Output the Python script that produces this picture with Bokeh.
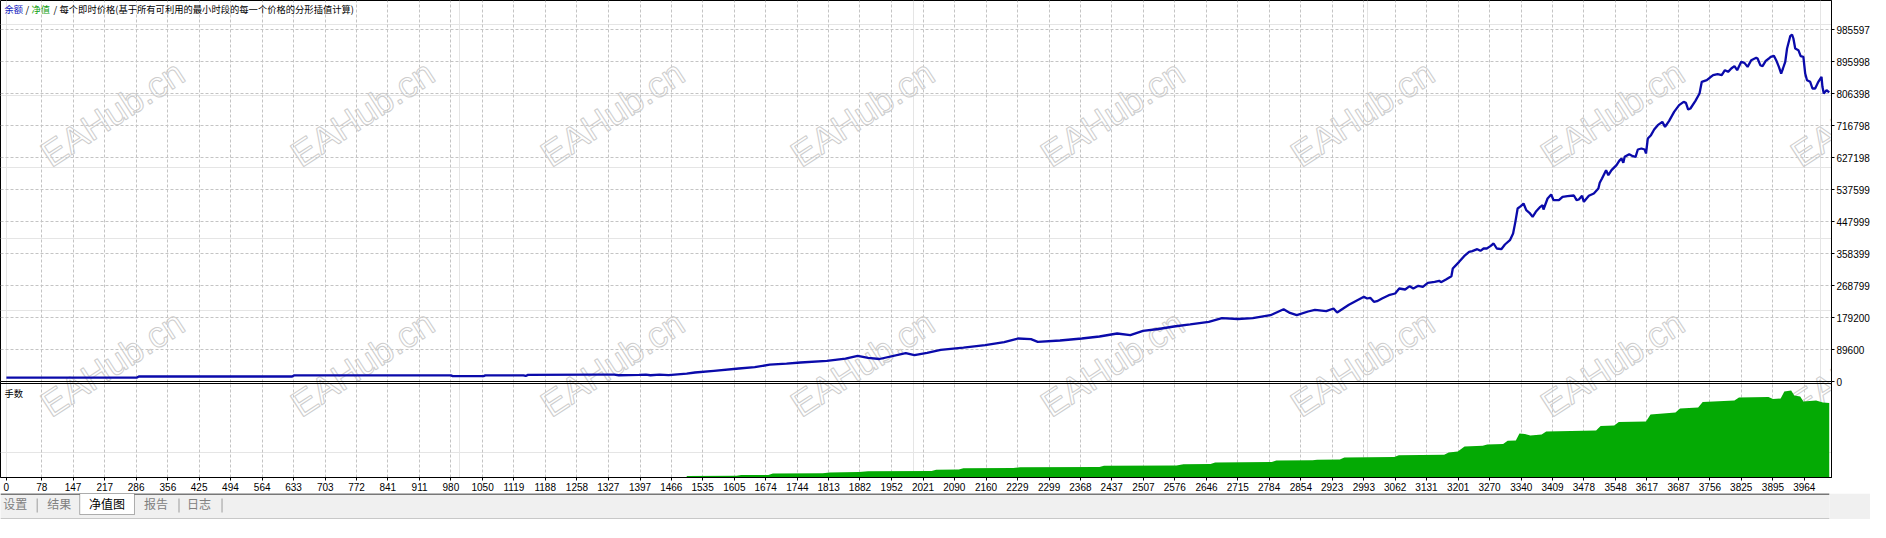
from bokeh.plotting import figure
from bokeh.layouts import column
from bokeh.models import FixedTicker, Grid, Label, Span, Range1d, LinearAxis, BoxAnnotation
from bokeh.core.properties import value
from bokeh.embed import file_html
from bokeh.resources import INLINE

# ---------------- data ----------------
bar_index = [0, 288, 292, 630, 634, 980, 984, 1052, 1056, 1140, 1145, 1150, 1300, 1340, 1350,
             1395, 1410, 1420, 1440, 1460, 1480, 1500, 1518, 1560, 1615, 1650, 1683, 1720, 1751,
             1809, 1850, 1877, 1900, 1925, 1983, 2002, 2030, 2060, 2110, 2158, 2200, 2230, 2259,
             2274, 2323, 2371, 2410, 2449, 2478, 2506, 2540, 2574, 2610, 2651, 2680, 2715, 2748,
             2787, 2816, 2830, 2845, 2870, 2885, 2910, 2926, 2934, 2960,
             2993, 3000, 3007, 3015, 3022, 3033, 3048, 3062, 3071, 3084, 3094, 3102, 3113, 3123,
             3134, 3149, 3159, 3163, 3174, 3186, 3189, 3203, 3214, 3225, 3232, 3243, 3250, 3257,
             3264, 3272, 3279, 3286, 3296, 3304, 3315, 3322, 3327, 3332, 3339, 3345, 3351, 3358,
             3365, 3372, 3382, 3387, 3389, 3398, 3406, 3411, 3423, 3431, 3442, 3456, 3462, 3467,
             3474, 3478, 3489, 3500, 3510,
             3513, 3518, 3527, 3532, 3539, 3550, 3556, 3561, 3565, 3568, 3578, 3586, 3592, 3597,
             3605, 3612, 3615, 3619, 3626, 3633, 3641, 3651, 3657, 3666, 3677, 3688, 3698, 3703,
             3708, 3713, 3724, 3733, 3738, 3749, 3756, 3763, 3773, 3782, 3789, 3796, 3803, 3810,
             3816, 3825, 3832, 3839, 3847, 3858, 3861, 3867, 3872, 3879, 3886, 3890, 3897, 3902,
             3908, 3913, 3917, 3922, 3926, 3933, 3937, 3940, 3944, 3951, 3956, 3962, 3966, 3970,
             3977, 3982, 3988, 3995, 4002, 4004, 4007, 4013, 4019]
balance = [11000, 11000, 14000, 14000, 17000, 17000, 15000, 15000, 17000, 17000, 15500, 18500,
           19000, 19000, 17500, 18500, 19500, 17500, 19500, 18000, 20000, 22000, 25200, 30000,
           36400, 40000, 47000, 50000, 53200, 57900, 64000, 72000, 66000, 63000, 79300, 74000,
           80000, 88600, 95000, 101700, 110000, 120400, 118500, 111100, 114800, 120400, 126000,
           134400, 130000, 141900, 147000, 154000, 160000, 167100, 177200, 175000, 177200, 185600,
           202400, 192000, 185600, 196000, 200700, 197000, 204400, 193200, 215000,
           237100, 232400, 234300, 223100, 225000, 232400, 241700, 246400, 260400, 257600, 266900,
           260400, 267900, 265000, 276300, 279100, 282000, 278200, 285600, 294900, 316400, 335000,
           350900, 363000, 364900, 370500, 365900, 372400, 372400, 379000, 386400, 372400, 370500,
           383600, 395700, 414300, 447000, 484400, 490900, 498400, 479700, 472300, 461100, 475100,
           489100, 493700, 481600, 512400, 523600, 507700, 507700, 517000, 518900, 520800, 507700,
           509600, 519900, 503100, 519900, 526400, 540400,
           556300, 568400, 591700, 577600, 591700, 605700, 617900, 624400, 612300, 629100, 636500,
           631000, 629100, 649600, 652400, 649600, 638400, 680400, 689700, 705600, 717700, 727000,
           713000, 729800, 755000, 773700, 783000, 780200, 761500, 764400, 785800, 806400, 839100,
           843700, 851100, 857700, 860500, 857700, 871700, 867000, 876400, 882900, 871700, 895000,
           892100, 881000, 899700, 906300, 904400, 885700, 882900, 897800, 904400, 909000, 911900,
           899700, 881000, 862300, 876400, 895000, 932400, 966900, 971600, 960400, 932400, 927700,
           910900, 909000, 862300, 843700, 839100, 820400, 820400, 839100, 853100, 825100, 806400,
           815800, 809300]

lots_index = [1500, 1610, 1620, 1680, 1690, 1800, 1815, 1880, 1900, 2040, 2050, 2100, 2110, 2220,
              2235, 2410, 2420, 2580, 2595, 2655, 2665, 2790, 2800, 2880, 2890, 2940, 2950, 3060,
              3070, 3170, 3180, 3200, 3215, 3255, 3265, 3300, 3310, 3328, 3336, 3348, 3360, 3385,
              3395, 3505, 3515, 3545, 3555, 3615, 3625, 3680, 3690, 3730, 3740, 3810, 3820, 3885,
              3895, 3912, 3920, 3935, 3942, 3955, 3962, 3990, 4005, 4019]
lots = [0.15, 0.17, 0.25, 0.25, 0.40, 0.42, 0.50, 0.55, 0.63, 0.65, 0.78, 0.80, 0.92, 0.95, 1.02,
        1.05, 1.17, 1.20, 1.33, 1.36, 1.50, 1.55, 1.70, 1.72, 1.78, 1.80, 2.00, 2.05, 2.23, 2.27,
        2.50, 2.60, 3.10, 3.17, 3.30, 3.35, 3.67, 3.70, 4.40, 4.35, 4.20, 4.30, 4.60, 4.70, 5.15,
        5.20, 5.55, 5.60, 6.30, 6.50, 6.90, 7.00, 7.55, 7.70, 8.00, 8.05, 7.85, 7.90, 8.60, 8.70,
        8.20, 8.10, 7.60, 7.70, 7.50, 7.45]

x_tick_labels = ["0", "78", "147", "217", "286", "356", "425", "494", "564", "633", "703", "772",
                 "841", "911", "980", "1050", "1119", "1188", "1258", "1327", "1397", "1466", "1535",
                 "1605", "1674", "1744", "1813", "1882", "1952", "2021", "2090", "2160", "2229",
                 "2299", "2368", "2437", "2507", "2576", "2646", "2715", "2784", "2854", "2923",
                 "2993", "3062", "3131", "3201", "3270", "3340", "3409", "3478", "3548", "3617",
                 "3687", "3756", "3825", "3895", "3964"]
y_tick_labels = ["0", "89600", "179200", "268799", "358399", "447999", "537599", "627198",
                 "716798", "806398", "895998", "985597"]

title_parts = ["余额", "/", "净值", "/", "每个即时价格(基于所有可利用的最小时段的每一个价格的分形插值计算)"]
title_colors = ["#1020C0", "#000000", "#10A010", "#000000", "#000000"]
lots_title = "手数"
tab_names = ["设置", "结果", "净值图", "报告", "日志"]
watermark = "EAHub.cn"

# ---------------- layout constants ----------------
PAGE = 8
FRAME_W = 1831
FRAME_TOP, ZERO_Y, FRAME_BOT = 8, 389, 485   # page pixels
VAL_PER_PX = 2800.0
LOT_PER_PX = 0.1
X0, X1 = -13.0, 4024.0
SCALE = FRAME_W / (X1 - X0)

def nx(px):
    return X0 + (px - PAGE) / SCALE

def vy(py):
    return (ZERO_Y - py) * VAL_PER_PX

x_ticks = [float(s) for s in x_tick_labels]
y_ticks = [float(s) for s in y_tick_labels]

GRID_COLOR = "#c4c4c4"
FONT = "Liberation Sans"
CJK = "Noto Sans CJK SC"

p = figure(frame_width=FRAME_W, frame_height=FRAME_BOT - FRAME_TOP,
           x_range=Range1d(X0, X1),
           y_range=Range1d(vy(FRAME_BOT), vy(FRAME_TOP)),
           x_axis_location=None, y_axis_location=None,
           output_backend="svg", toolbar_location=None,
           min_border_left=0, min_border_right=0, min_border_top=0, min_border_bottom=0)
p.extra_y_ranges = {"lots": Range1d(0, (FRAME_BOT - FRAME_TOP) * LOT_PER_PX)}
p.background_fill_color = "white"
p.border_fill_color = "white"
p.outline_line_color = "black"
p.outline_line_width = 1

# right value axis
yax = LinearAxis(ticker=FixedTicker(ticks=y_ticks))
yax.major_label_overrides = {t: s for t, s in zip(y_ticks, y_tick_labels)}
yax.axis_line_color = "black"
yax.major_tick_line_color = "black"
yax.major_tick_out = 3
yax.major_tick_in = 0
yax.minor_tick_out = 0
yax.minor_tick_in = 0
yax.major_label_standoff = 2
yax.major_label_text_font = FONT
yax.major_label_text_font_size = "10px"
yax.major_label_text_color = "black"
p.add_layout(yax, "right")

# bottom bar-number axis
xax = LinearAxis(ticker=FixedTicker(ticks=x_ticks))
xax.major_label_overrides = {t: s for t, s in zip(x_ticks, x_tick_labels)}
xax.axis_line_color = "black"
xax.major_tick_line_color = "black"
xax.major_tick_out = 3
xax.major_tick_in = 0
xax.minor_tick_out = 0
xax.minor_tick_in = 0
xax.major_label_standoff = 2
xax.major_label_text_font = FONT
xax.major_label_text_font_size = "10px"
xax.major_label_text_color = "black"
xax.major_label_text_align = "right"
p.add_layout(xax, "below")

# grids
p.add_layout(Grid(dimension=0, ticker=FixedTicker(ticks=x_ticks[1:]),
                  grid_line_color=GRID_COLOR, grid_line_dash="3 2", grid_line_width=1))
p.add_layout(Grid(dimension=1, ticker=FixedTicker(ticks=y_ticks[1:]),
                  grid_line_color=GRID_COLOR, grid_line_dash="3 2", grid_line_width=1))

# watermarks
wm_px = [120 + 250 * i for i in range(8)]
wm_py = [121, 371]
for py in wm_py:
    for px in wm_px:
        p.add_layout(Label(x=nx(px), y=vy(py), text=watermark, angle=0.576,
                           text_align="center", text_baseline="middle",
                           text_font=FONT, text_font_size="36px",
                           text_color=(255, 255, 255, 0.0),
                           text_outline_color="#cdcdcd", level="underlay"))

# lots area (lower panel)
p.varea(x=lots_index, y1=0, y2=lots, fill_color="#04AA04", y_range_name="lots")

# balance line
p.line(bar_index, balance, line_color="#0A0AAA", line_width=2.3)

# panel separator
p.add_layout(Span(location=0, dimension="width", line_color="black", line_width=1))
p.add_layout(Span(location=(FRAME_BOT - 391) * LOT_PER_PX, dimension="width",
                  line_color="black", line_width=1, y_range_name="lots"))

# titles
title_px = [12, 33, 39, 61, 67]
for txt, col, px in zip(title_parts, title_colors, title_px):
    p.add_layout(Label(x=nx(px), y=vy(16), text=txt, text_color=col,
                       text_font=CJK, text_font_size="9.3px",
                       text_align="left", text_baseline="middle"))
p.add_layout(Label(x=nx(12), y=vy(400.5), text=lots_title, text_color="black",
                   text_font=CJK, text_font_size="9.3px",
                   text_align="left", text_baseline="middle"))

# ---------------- tab strip ----------------
TAB_W, TAB_H = 1870, 26
t = figure(width=TAB_W, height=TAB_H, x_range=Range1d(0, TAB_W), y_range=Range1d(0, TAB_H),
           x_axis_location=None, y_axis_location=None,
           output_backend="svg", toolbar_location=None,
           min_border_left=0, min_border_right=0, min_border_top=0, min_border_bottom=0)
t.background_fill_color = "#f0f0f0"
t.border_fill_color = "#f0f0f0"
t.outline_line_color = None
t.xgrid.visible = False
t.ygrid.visible = False
t.add_layout(Span(location=25.5, dimension="width", line_color="black", line_width=1,
                  level="underlay"))
t.add_layout(BoxAnnotation(left=81, right=137, bottom=5, top=26, fill_color="white",
                           fill_alpha=1, line_color="black", line_width=1, level="underlay"))
for sx in [37, 182, 226]:
    t.add_layout(BoxAnnotation(left=sx, right=sx + 1, bottom=7, top=21, fill_color="#9a9a9a",
                               fill_alpha=1, line_color=None, level="underlay"))
t.add_layout(BoxAnnotation(left=0, right=TAB_W, bottom=0, top=1, fill_color="#a0a0a0",
                           fill_alpha=1, line_color=None, level="underlay"))
tab_x = [15, 60, 109, 159, 203]
tab_colors = ["#808080", "#808080", "#000000", "#808080", "#808080"]
t.text(x=tab_x, y=[16] * len(tab_names), text=tab_names, text_color=tab_colors,
       text_font=value(CJK), text_font_size="12px", text_align="center", text_baseline="middle")

layout = column(p, t, spacing=0)
open("out.html", "w").write(file_html(layout, INLINE))
